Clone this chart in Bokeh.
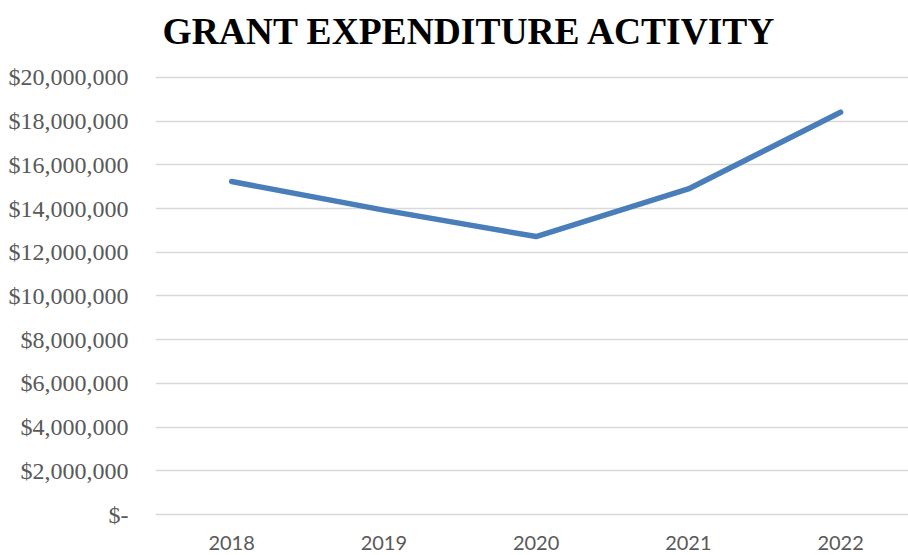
from bokeh.plotting import figure
from bokeh.models import Range1d, FixedTicker
from bokeh.embed import file_html
from bokeh.resources import INLINE
from bokeh.core.properties import value

# ---- data ----
years = [2018, 2019, 2020, 2021, 2022]
expenditure = [15240000, 13930000, 12720000, 14900000, 18410000]
y_ticks = [0, 2000000, 4000000, 6000000, 8000000, 10000000,
           12000000, 14000000, 16000000, 18000000, 20000000]
y_tick_labels = ["$-", "$2,000,000", "$4,000,000", "$6,000,000", "$8,000,000",
                 "$10,000,000", "$12,000,000", "$14,000,000", "$16,000,000",
                 "$18,000,000", "$20,000,000"]
x_tick_labels = ["2018", "2019", "2020", "2021", "2022"]
title_text = "GRANT EXPENDITURE ACTIVITY"

p = figure(width=908, height=555, output_backend="svg", toolbar_location=None,
           x_range=Range1d(2017.5, 2022.446), y_range=Range1d(-1876000, 20686000),
           x_axis_location=None,
           min_border_left=155, min_border_right=0, min_border_bottom=0,
           min_border_top=62, title=title_text)

p.line(years, expenditure, line_color="#4A7EBB", line_width=5.5,
       line_cap="round", line_join="round")

# category labels under the zero line
zeros = [0] * len(years)
p.text(x=years, y=zeros, text=x_tick_labels, y_offset=28,
       text_align="center", text_baseline="middle",
       text_font=value("Lato"), text_font_size="20px", text_color="#595959")

p.outline_line_color = None
p.background_fill_color = "white"
p.border_fill_color = "white"

# title
p.title.text_font = "Liberation Serif"
p.title.text_font_style = "bold"
p.title.text_font_size = "37.5px"
p.title.text_color = "black"
p.title.align = "left"
p.title.offset = 7
p.title.standoff = 18
p.title.vertical_align = "top"

# grid
p.xgrid.visible = False
p.ygrid.grid_line_color = "#d9d9d9"
p.ygrid.grid_line_width = 1.5
p.ygrid.ticker = FixedTicker(ticks=y_ticks)

# y axis
p.yaxis.ticker = FixedTicker(ticks=y_ticks)
p.yaxis.major_label_overrides = {t: l for t, l in zip(y_ticks, y_tick_labels)}
p.yaxis.axis_line_color = None
p.yaxis.major_tick_line_color = None
p.yaxis.minor_tick_line_color = None
p.yaxis.major_tick_out = 0
p.yaxis.major_label_standoff = 27
p.yaxis.major_label_text_font = "Liberation Serif"
p.yaxis.major_label_text_font_size = "24px"
p.yaxis.major_label_text_color = "#595959"

open("out.html", "w").write(file_html(p, INLINE))
